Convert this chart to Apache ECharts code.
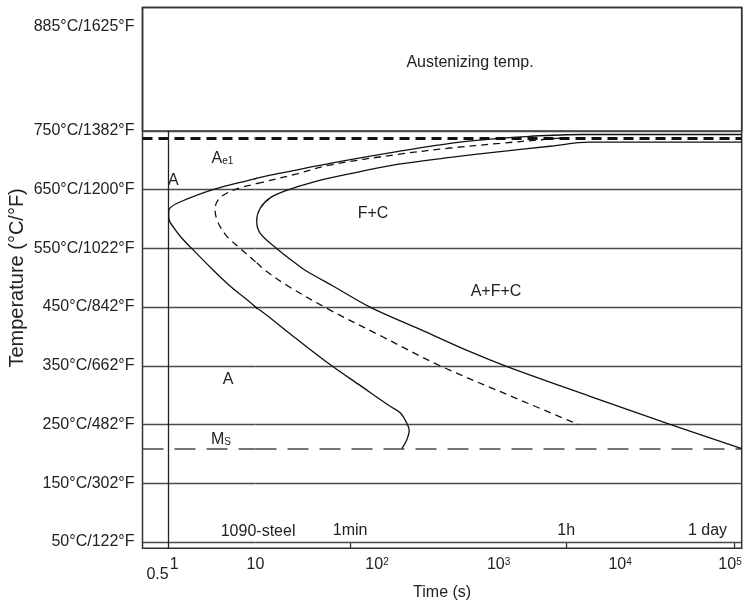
<!DOCTYPE html>
<html>
<head>
<meta charset="utf-8">
<script src="https://cdn.jsdelivr.net/npm/echarts@6/dist/echarts.min.js"></script>
<style>html,body{margin:0;padding:0;background:#fff}#chart{width:751px;height:606px}</style>
</head>
<body>
<div id="chart"></div>
<script>
// ---------------- data ----------------
const isothermsC = [750, 650, 550, 450, 350, 250, 150, 50];
const isothermsF = [1382, 1200, 1022, 842, 662, 482, 302, 122];
const austenizingC = 885;
const austenizingF = 1625;
const ae1Temp = 738;          // Ae1 line (°C)
const msTemp = 209;           // Ms line (°C)
const verticalTime = 1;       // vertical reference line (s)
const xLowTicks = [0.5, 1];
const xDecades = [10, 100, 1000, 10000, 100000];
const timeMarks = [60, 3600, 86400];
const timeMarkLabels = ['1min', '1h', '1 day'];

// transformation start curve: [time s, temp °C]
const startCurve = [[100000,744],[4900,744],[1800,741],[850,736],[400,729],[146,715],[41,695],[11.5,672],[10,669],
  [3.24,650],[1.35,629],[1.04,619],[1.0,610],[1.01,599],[1.15,585],[1.39,569],[1.84,550],[3.16,515],[5.09,486],[10,450],
  [20.5,400],[42.4,350],[72,317],[128,281],[155,270],[175,253],[184,240],[175,223],[160,209]];
// 50 % curve (dashed)
const halfCurve = [[3200,738],[2200,735],[1030,729],[400,721],[146,710],[41,692],[21.9,677],[11.6,663],[10,660],
  [6.63,653],[4.66,644],[3.73,633],[3.42,618],[3.63,597],[4.66,571],[6.63,550],[10,527],[11.6,515],[17.5,489],
  [38.5,448],[112,399],[330,350],[1240,299],[4525,250]];
// transformation finish curve
const finishCurve = [[100000,731],[5600,731],[2650,724],[1030,715],[400,705],[146,693],[56.3,676],[29.9,663],
  [18.1,649],[13.2,636],[10.9,618],[10.23,597],[10.9,576],[14.9,550],[24.7,515],[30.9,503],[43.4,486],[87.5,450],
  [226,412],[582,374],[1130,350],[5650,298],[25700,250],[100000,209]];

// region labels: [time s, temp °C]
const notesLeft = [
  {text:'A{sub|e1}', value:[4.17,703]},
  {text:'A', value:[1.13,665]},
  {text:'A', value:[4.82,327]},
  {text:'M{sub|S}', value:[4.0,225]}
];
const notesRight = [
  {text:'F+C', value:[92.6,609]},
  {text:'A+F+C', value:[952,477]},
  {text:'1090-steel', value:[10.5,68]}
];
const topNote = 'Austenizing temp.';

// ---------------- chart ----------------
const FONT = "'Liberation Sans', Arial, Helvetica, sans-serif";
const TXT = '#222';
const LINEC = '#4a4a4a';
const FRAME = '#333';
const CURVE = '#111';

function yLabel(v) {
  const i = isothermsC.indexOf(Math.round(v));
  if (i >= 0) return isothermsC[i] + '°C/' + isothermsF[i] + '°F';
  if (Math.round(v) === austenizingC) return austenizingC + '°C/' + austenizingF + '°F';
  return '';
}
function decadeLabel(v) {
  const e = Math.round(Math.log10(v));
  return e === 1 ? '10' : '10{sup|' + e + '}';
}
function lowLabel(v) {
  return Math.abs(v - xLowTicks[0]) < 1e-9 ? '{lo|' + xLowTicks[0] + '}' : '{one|' + xLowTicks[1] + '}';
}
function markLabel(v) {
  const i = timeMarks.findIndex(m => Math.abs(m - v) / m < 1e-6);
  if (i < 0) return '';
  return i === timeMarks.length - 1 ? '{r|' + timeMarkLabels[i] + '}' : timeMarkLabels[i];
}

const hidden = {axisLine:{show:false}, axisTick:{show:false}, axisLabel:{show:false}, splitLine:{show:false}};
const lblBase = {color:TXT, fontSize:16, fontFamily:FONT};

function marks(withVertical) {
  const data = isothermsC.map(v => ({yAxis:v}));
  data.push({yAxis:ae1Temp, lineStyle:{color:'#111', width:3, type:[10,6]}});
  data.push({yAxis:msTemp, lineStyle:{color:LINEC, width:1.5, type:[21,11]}});
  if (withVertical) data.push({xAxis:verticalTime, lineStyle:{color:'#222', width:1.3, type:'solid'}});
  return {silent:true, symbol:['none','none'], label:{show:false},
          lineStyle:{color:LINEC, width:1.4, type:'solid'}, data:data};
}
function curve(data, xi, yi, dashed, mk) {
  const s = {type:'line', data:data, xAxisIndex:xi, yAxisIndex:yi, smooth:0.35, symbol:'none', clip:true,
    silent:true, z:5, lineStyle:{color:CURVE, width:1.3, type: dashed ? [7,5] : 'solid'}};
  if (mk) { s.markLine = mk; }
  return s;
}
function notes(data, xi, yi) {
  return {type:'scatter', xAxisIndex:xi, yAxisIndex:yi, symbolSize:0, silent:true, z:6,
    itemStyle:{opacity:1, color:TXT},
    data:data.map(d => ({value:d.value, text:d.text})),
    label:{show:true, position:'inside', color:TXT, opacity:1, textBorderWidth:0, fontSize:16, fontFamily:FONT,
      formatter:p => p.data.text,
      rich:{sub:{fontSize:10, lineHeight:10, padding:[12,0,0,0], color:TXT, fontFamily:FONT, verticalAlign:'bottom'}}}};
}

const chart = echarts.init(document.getElementById('chart'));
chart.setOption({
  animation:false,
  textStyle:{fontFamily:FONT},
  title:{text:topNote, left:470, top:62.5, padding:0, textAlign:'center', textVerticalAlign:'middle',
    textStyle:{fontSize:16, fontWeight:'normal', color:TXT, fontFamily:FONT}},
  grid:[
    {left:142.5, top:7.5, width:599.2, height:123.5, show:true, borderColor:FRAME, borderWidth:1.5, backgroundColor:'transparent', outerBoundsMode:'none'},
    {left:142.5, top:131, width:113, height:417.3, outerBoundsMode:'none'},
    {left:255.5, top:131, width:486.2, height:417.3, outerBoundsMode:'none'},
    {left:142.5, top:7.5, width:599.2, height:540.8, show:true, borderColor:FRAME, borderWidth:1.5, backgroundColor:'transparent', outerBoundsMode:'none'}
  ],
  xAxis:[
    {gridIndex:0, type:'value', min:0, max:1, show:false},
    Object.assign({}, hidden, {gridIndex:1, type:'log', min:0.5, max:10,
      axisLabel:Object.assign({show:true, customValues:xLowTicks, formatter:lowLabel, margin:8.7,
        rich:{lo:Object.assign({padding:[10,0,0,30]}, lblBase), one:Object.assign({padding:[0,0,0,11]}, lblBase)}}, lblBase)}),
    Object.assign({}, hidden, {gridIndex:2, type:'log', min:10, max:100000,
      axisLabel:Object.assign({show:true, customValues:xDecades, formatter:decadeLabel, margin:8.7, alignMaxLabel:'right',
        rich:{sup:{fontSize:10, color:TXT, fontFamily:FONT, verticalAlign:'top'}}}, lblBase)}),
    {gridIndex:2, type:'log', min:10, max:100000, position:'bottom',
      axisLine:{show:false}, splitLine:{show:false},
      axisTick:{show:true, inside:true, length:6.4, customValues:timeMarks, lineStyle:{color:FRAME, width:1.3}},
      axisLabel:Object.assign({show:true, inside:true, customValues:timeMarks, formatter:markLabel, margin:9.3,
        rich:{r:Object.assign({padding:[0,53,0,0]}, lblBase)}}, lblBase)},
    Object.assign({}, hidden, {gridIndex:3, type:'value', min:0, max:1, name:'Time (s)', nameLocation:'middle', nameGap:36.7,
      nameTextStyle:{fontSize:16, color:TXT, fontFamily:FONT}})
  ],
  yAxis:[
    Object.assign({}, hidden, {gridIndex:0, type:'value', min:750, max:910,
      axisLabel:Object.assign({show:true, customValues:[austenizingC], formatter:yLabel, margin:8}, lblBase)}),
    Object.assign({}, hidden, {gridIndex:1, type:'value', min:39, max:750,
      axisLabel:Object.assign({show:true, customValues:isothermsC, formatter:yLabel, margin:8}, lblBase)}),
    {gridIndex:2, type:'value', min:39, max:750, show:false, splitLine:{show:false}},
    Object.assign({}, hidden, {gridIndex:3, type:'value', min:0, max:1, name:'Temperature (°C/°F)', nameLocation:'middle', nameGap:115.5,
      nameTextStyle:{fontSize:20, color:TXT, fontFamily:FONT}})
  ],
  series:[
    curve(startCurve, 1, 1, false, marks(true)),
    curve(halfCurve, 1, 1, true),
    curve(startCurve, 2, 2, false, marks(false)),
    curve(halfCurve, 2, 2, true),
    curve(finishCurve, 2, 2, false),
    notes(notesLeft, 1, 1),
    notes(notesRight, 2, 2)
  ]
});
</script>
</body>
</html>
